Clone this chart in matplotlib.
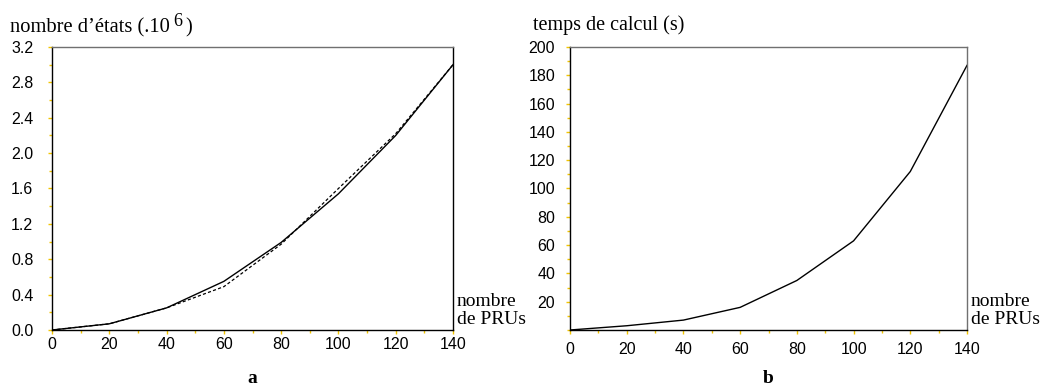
import matplotlib
matplotlib.use("Agg")
import matplotlib.pyplot as plt
from matplotlib.ticker import MultipleLocator, FixedLocator

# data
prus = [0, 20, 40, 60, 80, 100, 120, 140]
etats_solid = [0.0, 0.07, 0.25, 0.55, 0.99, 1.54, 2.20, 3.00]
etats_dashed = [0.0, 0.07, 0.25, 0.49, 0.97, 1.60, 2.22, 3.00]
temps = [0.0, 3.0, 7.0, 16.0, 35.0, 63.0, 112.0, 187.0]

left_yticks = [0.0, 0.4, 0.8, 1.2, 1.6, 2.0, 2.4, 2.8, 3.2]
right_yticks = [20, 40, 60, 80, 100, 120, 140, 160, 180, 200]
xticks = [0, 20, 40, 60, 80, 100, 120, 140]

SERIF = "Liberation Serif"
SANS = "Liberation Sans"
TICK_COLOR = "#f2c500"

fig = plt.figure(figsize=(10.48, 3.87), dpi=100)
ax1 = fig.add_axes([52 / 1048, 57 / 387, 401 / 1048, 283 / 387])
ax2 = fig.add_axes([570 / 1048, 57 / 387, 397 / 1048, 283 / 387])


def style_axes(ax, ymax, yticks, yminor, ypad, xpad, right_color):
    ax.set_xlim(0, 140)
    ax.set_ylim(0, ymax)
    ax.xaxis.set_major_locator(FixedLocator(xticks))
    ax.xaxis.set_minor_locator(MultipleLocator(10))
    ax.yaxis.set_major_locator(FixedLocator(yticks))
    ax.yaxis.set_minor_locator(MultipleLocator(yminor))
    ax.tick_params(which="major", direction="out", length=3, width=1,
                   color=TICK_COLOR, labelsize=11.5)
    ax.tick_params(which="minor", direction="out", length=2, width=1,
                   color=TICK_COLOR)
    ax.tick_params(axis="y", which="major", pad=ypad)
    ax.tick_params(axis="x", which="major", pad=xpad)
    for lab in ax.get_xticklabels() + ax.get_yticklabels():
        lab.set_fontfamily(SANS)
    ax.spines["left"].set_color("black")
    ax.spines["bottom"].set_color("black")
    ax.spines["top"].set_color("#707070")
    ax.spines["right"].set_color(right_color)
    for sp in ax.spines.values():
        sp.set_linewidth(1.0)
    ax.text(1.01, 0.07, "nombre\nde PRUs", transform=ax.transAxes,
            fontfamily=SERIF, fontsize=14, ha="left", va="center",
            linespacing=1.08)


# panel a
ax1.plot(prus, etats_solid, color="black", lw=1.0)
ax1.plot(prus, etats_dashed, color="black", lw=0.9, ls=(0, (2.5, 1.8)))
style_axes(ax1, 3.2, left_yticks, 0.2, 10.5, 2, "black")
ax1.set_yticklabels([f"{v:.1f}" for v in left_yticks], fontfamily=SANS)

title_y = 1.053
t1 = ax1.text(-0.105, title_y, "nombre d’états (.10", transform=ax1.transAxes,
              fontfamily=SERIF, fontsize=14.8, ha="left", va="baseline")
t2 = ax1.annotate("6", xy=(1, title_y), xycoords=(t1, ax1.transAxes),
                  xytext=(2.5, 4.5), textcoords="offset points",
                  fontfamily=SERIF, fontsize=13, ha="left", va="baseline")
ax1.annotate(")", xy=(1, title_y), xycoords=(t2, ax1.transAxes),
             xytext=(2.5, 0), textcoords="offset points", fontfamily=SERIF,
             fontsize=14.8, ha="left", va="baseline")
ax1.text(0.5, -0.17, "a", transform=ax1.transAxes, fontfamily=SERIF,
         fontweight="bold", fontsize=14, ha="center", va="center")

# panel b
ax2.plot(prus, temps, color="black", lw=1.0)
style_axes(ax2, 200, right_yticks, 10, 7.8, 5.5, "#707070")
ax2.text(-0.093, 1.06, "temps de calcul (s)", transform=ax2.transAxes,
         fontfamily=SERIF, fontsize=14.5, ha="left", va="baseline")
ax2.text(0.5, -0.17, "b", transform=ax2.transAxes, fontfamily=SERIF,
         fontweight="bold", fontsize=14, ha="center", va="center")

fig.savefig("out.png", dpi=100)
